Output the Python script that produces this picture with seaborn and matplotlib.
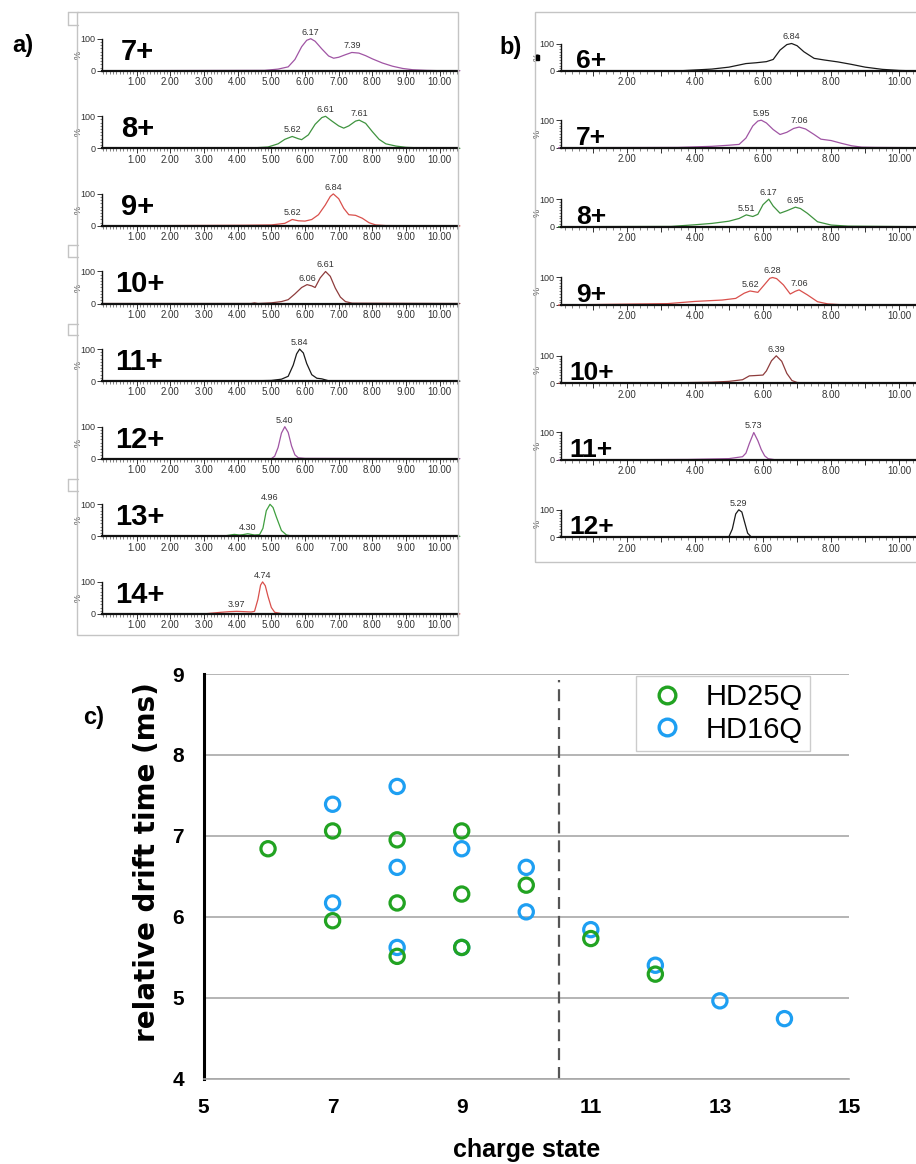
import numpy as np
import pandas as pd
import matplotlib
matplotlib.use("Agg")
import matplotlib.pyplot as plt
import seaborn as sns
from matplotlib.patches import Rectangle
from matplotlib.lines import Line2D
from matplotlib.ticker import MultipleLocator, FixedLocator

# ---------------- data: panel a (HD16Q arrival time distributions) ----------------
a7_x = [0, 4.8, 5.2, 5.5, 5.7, 5.9, 6.05, 6.17, 6.3, 6.5, 6.7, 6.85, 7.0, 7.2, 7.39, 7.6, 7.8, 8.0, 8.3, 8.6, 8.9, 9.2, 9.6, 10.0, 10.6]
a7_y = [0, 1, 5, 12, 35, 75, 95, 100, 92, 68, 46, 39, 42, 50, 57, 55, 47, 37, 24, 14, 7, 3, 1, 0, 0]
a8_x = [0, 4.4, 4.9, 5.2, 5.4, 5.62, 5.8, 5.9, 6.1, 6.3, 6.5, 6.61, 6.8, 7.0, 7.15, 7.3, 7.5, 7.61, 7.8, 8.0, 8.2, 8.4, 8.7, 9.0, 9.5, 10.6]
a8_y = [0, 1, 4, 14, 28, 37, 30, 27, 42, 75, 96, 100, 85, 70, 63, 70, 85, 88, 78, 52, 28, 14, 7, 3, 1, 0]
a9_x = [0, 4.2, 5.0, 5.4, 5.62, 5.8, 6.0, 6.2, 6.4, 6.6, 6.75, 6.84, 7.0, 7.15, 7.3, 7.5, 7.7, 7.9, 8.1, 8.4, 10.6]
a9_y = [0, 2, 3, 8, 20, 16, 15, 20, 35, 65, 92, 100, 85, 55, 35, 33, 24, 10, 3, 1, 0]
a10_x = [0, 4.4, 4.5, 4.6, 5.0, 5.3, 5.5, 5.7, 5.9, 6.06, 6.2, 6.3, 6.45, 6.61, 6.75, 6.9, 7.05, 7.2, 7.4, 10.6]
a10_y = [0, 0, 2, 0, 2, 6, 12, 30, 50, 59, 55, 50, 80, 100, 85, 48, 20, 6, 1, 0]
a11_x = [0, 4.5, 5.0, 5.3, 5.5, 5.65, 5.75, 5.84, 5.95, 6.05, 6.2, 6.35, 6.5, 6.7, 10.6]
a11_y = [0, 1, 2, 6, 15, 50, 85, 100, 88, 55, 20, 9, 7, 1, 0]
a12_x = [0, 5.0, 5.1, 5.2, 5.3, 5.4, 5.5, 5.6, 5.7, 5.8, 6.0, 10.6]
a12_y = [0, 0, 8, 35, 80, 100, 82, 40, 12, 3, 1, 0]
a13_x = [0, 3.6, 3.9, 4.05, 4.15, 4.30, 4.5, 4.65, 4.75, 4.85, 4.96, 5.05, 5.15, 5.3, 5.45, 5.6, 10.6]
a13_y = [0, 1, 6, 4, 5, 8, 4, 5, 25, 80, 100, 90, 60, 18, 4, 1, 0]
a14_x = [0, 3.0, 3.5, 3.75, 3.97, 4.2, 4.4, 4.5, 4.6, 4.68, 4.74, 4.82, 4.9, 5.0, 5.1, 5.3, 10.6]
a14_y = [0, 0, 5, 7, 8, 7, 6, 8, 45, 90, 100, 88, 55, 20, 5, 1, 0]

a_labels = ["7+", "8+", "9+", "10+", "11+", "12+", "13+", "14+"]
a_peaks = [[6.17, 7.39], [5.62, 6.61, 7.61], [5.62, 6.84], [6.06, 6.61],
           [5.84], [5.40], [4.30, 4.96], [3.97, 4.74]]
a_colors = ["#a055a4", "#3f933f", "#d9504c", "#8e3c3c", "#1a1a1a", "#a055a4", "#3f9f3f", "#d9504c"]

# ---------------- data: panel b (HD25Q arrival time distributions) ----------------
b6_x = [0, 3.6, 4.5, 5.0, 5.5, 5.8, 6.1, 6.3, 6.5, 6.7, 6.84, 7.0, 7.2, 7.5, 7.8, 8.2, 8.6, 9.0, 9.5, 10.0, 10.6]
b6_y = [0, 1, 7, 14, 27, 30, 34, 42, 76, 96, 100, 92, 70, 46, 40, 33, 24, 14, 6, 2, 0]
b7_x = [0, 3.5, 4.5, 5.0, 5.3, 5.5, 5.7, 5.85, 5.95, 6.1, 6.3, 6.5, 6.7, 6.9, 7.06, 7.25, 7.5, 7.7, 8.0, 8.3, 8.6, 8.9, 9.3, 10.6]
b7_y = [0, 1, 5, 9, 12, 35, 79, 97, 100, 90, 66, 48, 56, 70, 75, 68, 48, 31, 26, 16, 7, 2, 1, 0]
b8_x = [0, 3.3, 4.0, 4.5, 5.0, 5.3, 5.51, 5.7, 5.85, 6.0, 6.17, 6.3, 6.5, 6.7, 6.95, 7.1, 7.3, 7.6, 8.0, 8.5, 10.6]
b8_y = [0, 1, 7, 12, 20, 30, 43, 37, 45, 80, 100, 75, 49, 58, 71, 66, 49, 18, 6, 2, 0]
b9_x = [0, 3.2, 4.0, 4.8, 5.2, 5.45, 5.62, 5.85, 6.05, 6.2, 6.28, 6.4, 6.6, 6.8, 6.95, 7.06, 7.3, 7.6, 7.9, 8.3, 10.6]
b9_y = [0, 5, 13, 18, 24, 43, 51, 46, 75, 97, 100, 96, 73, 40, 50, 55, 37, 12, 4, 1, 0]
b10_x = [0, 3.5, 4.5, 5.0, 5.4, 5.6, 5.75, 6.0, 6.1, 6.25, 6.39, 6.55, 6.7, 6.85, 7.0, 7.3, 10.6]
b10_y = [0, 2, 4, 7, 13, 27, 28, 30, 45, 82, 100, 80, 36, 10, 3, 1, 0]
b11_x = [0, 3.8, 5.0, 5.4, 5.5, 5.6, 5.73, 5.85, 5.95, 6.05, 6.15, 6.35, 10.6]
b11_y = [0, 2, 5, 12, 25, 60, 100, 70, 38, 15, 5, 1, 0]
b12_x = [0, 3.8, 5.0, 5.1, 5.2, 5.29, 5.38, 5.45, 5.55, 5.65, 5.8, 10.6]
b12_y = [0, 2, 2, 30, 85, 100, 92, 60, 15, 2, 0, 0]

b_labels = ["6+", "7+", "8+", "9+", "10+", "11+", "12+"]
b_peaks = [[6.84], [5.95, 7.06], [5.51, 6.17, 6.95], [5.62, 6.28, 7.06], [6.39], [5.73], [5.29]]
b_colors = ["#1a1a1a", "#a055a4", "#3f933f", "#d9504c", "#8e3c3c", "#a055a4", "#1a1a1a"]

# ---------------- data: panel c (peak drift times) ----------------
hd16q_charge = [7, 7, 8, 8, 8, 9, 9, 10, 10, 11, 12, 13, 14]
hd16q_drift = [6.17, 7.39, 5.62, 6.61, 7.61, 5.62, 6.84, 6.06, 6.61, 5.84, 5.40, 4.96, 4.74]
hd25q_charge = [6, 7, 7, 8, 8, 8, 9, 9, 9, 10, 11, 12]
hd25q_drift = [6.84, 5.95, 7.06, 5.51, 6.17, 6.95, 5.62, 6.28, 7.06, 6.39, 5.73, 5.29]
series_names = ["HD25Q", "HD16Q"]
series_colors = ["#22a322", "#1e9ff2"]
x_ticks_c = [5, 7, 9, 11, 13, 15]
y_ticks_c = [4, 5, 6, 7, 8, 9]

# ---------------- figure ----------------
sns.set_theme(style="white")
plt.rcParams["font.family"] = ["Liberation Sans", "DejaVu Sans"]
plt.rcParams["text.color"] = "black"
plt.rcParams["axes.labelcolor"] = "black"
plt.rcParams["xtick.color"] = "black"
plt.rcParams["ytick.color"] = "black"
NARROW = ["Liberation Sans Narrow", "Liberation Sans", "DejaVu Sans"]

W, H = 916, 1164
fig = plt.figure(figsize=(W / 100, H / 100), dpi=100)


def rect(l, t, r, b):
    return [l / W, 1 - b / H, (r - l) / W, (b - t) / H]


def fxy(x, y):
    return x / W, 1 - y / H


def box(l, t, r, b, color="#c4c4c4", lw=1.0):
    fig.add_artist(Rectangle(fxy(l, b), (r - l) / W, (b - t) / H, transform=fig.transFigure,
                             fill=False, edgecolor=color, linewidth=lw))


def trace_axes(l, r, base, h100, x0px, upx, xs, ys, color, peaks, minor, labelled):
    ax = fig.add_axes(rect(l, base - h100, r, base))
    ax.patch.set_alpha(0)
    df = pd.DataFrame({"t": xs, "v": ys})
    sns.lineplot(data=df, x="t", y="v", ax=ax, color=color, linewidth=0.9)
    for ln in ax.lines:
        ln.set_clip_on(False)
    ax.set_xlim((l - x0px) / upx, (r - x0px) / upx)
    ax.set_ylim(0, 100)
    for s in ["top", "right"]:
        ax.spines[s].set_visible(False)
    for s in ["left", "bottom"]:
        ax.spines[s].set_color("#111111")
        ax.spines[s].set_linewidth(1.0)
    ax.spines["bottom"].set_linewidth(1.6)
    ax.xaxis.set_major_locator(FixedLocator(list(range(1, 11))))
    ax.set_xticklabels([f"{v:.2f}" if v in labelled else "" for v in range(1, 11)],
                       fontsize=7, color="#333333", family=NARROW)
    ax.xaxis.set_minor_locator(MultipleLocator(minor))
    ax.yaxis.set_major_locator(FixedLocator([0, 100]))
    ax.set_yticklabels(["0", "100"], fontsize=6.5, color="#333333", family=NARROW)
    ax.yaxis.set_minor_locator(MultipleLocator(10))
    ax.tick_params(axis="both", which="major", direction="out", length=3.5, width=0.7,
                   color="#333333", pad=1, bottom=True, left=True)
    ax.tick_params(axis="both", which="minor", direction="out", length=1.8, width=0.5,
                   color="#555555", bottom=True, left=True)
    ax.set_xlabel("")
    ax.set_ylabel("%", fontsize=6.5, color="#444444", labelpad=-1, family=NARROW)
    for p in peaks:
        yv = float(np.interp(p, xs, ys))
        ax.annotate(f"{p:.2f}", (p, yv), xytext=(0, 1.5), textcoords="offset points",
                    ha="center", va="bottom", fontsize=6.5, color="#333333",
                    family=NARROW, annotation_clip=False)
    return ax


# panel a
box(77, 12, 458, 635)
for (t, b) in [(12, 25), (245, 257), (324, 335), (479, 491)]:
    fig.add_artist(Line2D([68 / W, 68 / W], [1 - t / H, 1 - b / H], transform=fig.transFigure,
                          color="#c4c4c4", lw=1))
    fig.add_artist(Line2D([68 / W, 78 / W], [1 - t / H, 1 - t / H], transform=fig.transFigure,
                          color="#c4c4c4", lw=1))
    fig.add_artist(Line2D([68 / W, 78 / W], [1 - b / H, 1 - b / H], transform=fig.transFigure,
                          color="#c4c4c4", lw=1))

a_x = [a7_x, a8_x, a9_x, a10_x, a11_x, a12_x, a13_x, a14_x]
a_y = [a7_y, a8_y, a9_y, a10_y, a11_y, a12_y, a13_y, a14_y]
for i in range(8):
    base = 70.7 + 77.6 * i
    trace_axes(102, 458, base, 32, 103, 33.67, a_x[i], a_y[i], a_colors[i], a_peaks[i],
               0.1, list(range(1, 11)))
    lx = 121 if len(a_labels[i]) == 2 else 115
    fig.text(*fxy(lx, base - 11), a_labels[i], fontsize=21, fontweight="bold",
             va="baseline", ha="left", color="black")

# panel b
box(535, 12, 930, 562)
fig.add_artist(Rectangle(fxy(535.5, 59.5), 3.5 / W, 5 / H, transform=fig.transFigure,
                         color="black"))
b_x = [b6_x, b7_x, b8_x, b9_x, b10_x, b11_x, b12_x]
b_y = [b6_y, b7_y, b8_y, b9_y, b10_y, b11_y, b12_y]
b_bases = [71, 147.7, 226.7, 305, 383.3, 460, 537.3]
for i in range(7):
    base = b_bases[i]
    trace_axes(561, 916, base, 27.5, 558.5, 34.08, b_x[i], b_y[i], b_colors[i], b_peaks[i],
               0.2, [2, 4, 6, 8, 10])
    lx = 576 if len(b_labels[i]) == 2 else 569
    fig.text(*fxy(lx, base - 3), b_labels[i], fontsize=19, fontweight="bold",
             va="baseline", ha="left", color="black")

fig.text(*fxy(12, 52), "a)", fontsize=17, fontweight="bold", va="baseline", ha="left",
         color="black")
fig.text(*fxy(499, 54), "b)", fontsize=17, fontweight="bold", va="baseline", ha="left",
         color="black")
fig.text(*fxy(83, 724), "c)", fontsize=17, fontweight="bold", va="baseline", ha="left",
         color="black")

# panel c
axc = fig.add_axes(rect(203.5, 674, 849, 1078.5))
sc_df = pd.DataFrame({
    "charge": hd16q_charge + hd25q_charge,
    "drift": hd16q_drift + hd25q_drift,
    "series": ["HD16Q"] * len(hd16q_charge) + ["HD25Q"] * len(hd25q_charge),
})
pal = dict(zip(series_names, series_colors))
sns.scatterplot(data=sc_df, x="charge", y="drift", hue="series", palette=pal, s=105,
                linewidth=2.3, ax=axc, legend=False, zorder=3, clip_on=False)
for coll in axc.collections:
    fcs = coll.get_facecolors()
    coll.set_edgecolors(fcs)
    coll.set_facecolors("none")

axc.set_xlim(5, 15)
axc.set_ylim(4, 9)
axc.set_xticks(x_ticks_c)
axc.set_yticks(y_ticks_c)
axc.set_xticklabels([str(v) for v in x_ticks_c], fontsize=15, fontweight="bold", color="black")
axc.set_yticklabels([str(v) for v in y_ticks_c], fontsize=15, fontweight="bold", color="black")
axc.tick_params(axis="both", length=0, pad=14)
axc.yaxis.grid(True, color="#a8a8a8", linewidth=1.2)
axc.xaxis.grid(False)
axc.set_axisbelow(True)
for s in ["top", "right"]:
    axc.spines[s].set_visible(False)
axc.spines["left"].set_color("black")
axc.spines["left"].set_linewidth(2.2)
axc.spines["bottom"].set_color("#a8a8a8")
axc.spines["bottom"].set_linewidth(1.2)
axc.axvline(10.5, ymin=0, ymax=0.985, color="#555555", linewidth=1.6, dashes=(5.4, 3.1), zorder=2)
axc.set_xlabel("")
axc.set_ylabel("")
fig.text(*fxy(527, 1157), "charge state", fontsize=18, fontweight="bold",
         ha="center", va="baseline", color="black")
fig.text(*fxy(147, 862), "relative drift time (ms)", fontsize=20, fontweight="bold",
         ha="center", va="center", rotation=90, color="black",
         family=["DejaVu Sans"])

handles = [Line2D([], [], linestyle="none", marker="o", markersize=12, markerfacecolor="none",
                  markeredgecolor=c, markeredgewidth=2.4) for c in series_colors]
leg = axc.legend(handles, series_names, loc="upper left",
                 bbox_to_anchor=fxy(636, 676), bbox_transform=fig.transFigure,
                 fontsize=21, frameon=True, fancybox=False, framealpha=1,
                 edgecolor="#cccccc", borderpad=0.25, handletextpad=0.55,
                 labelspacing=0.15, borderaxespad=0, handlelength=1.6)
leg.get_frame().set_linewidth(1.0)
for t in leg.get_texts():
    t.set_color("black")

fig.savefig("out.png", dpi=100)
